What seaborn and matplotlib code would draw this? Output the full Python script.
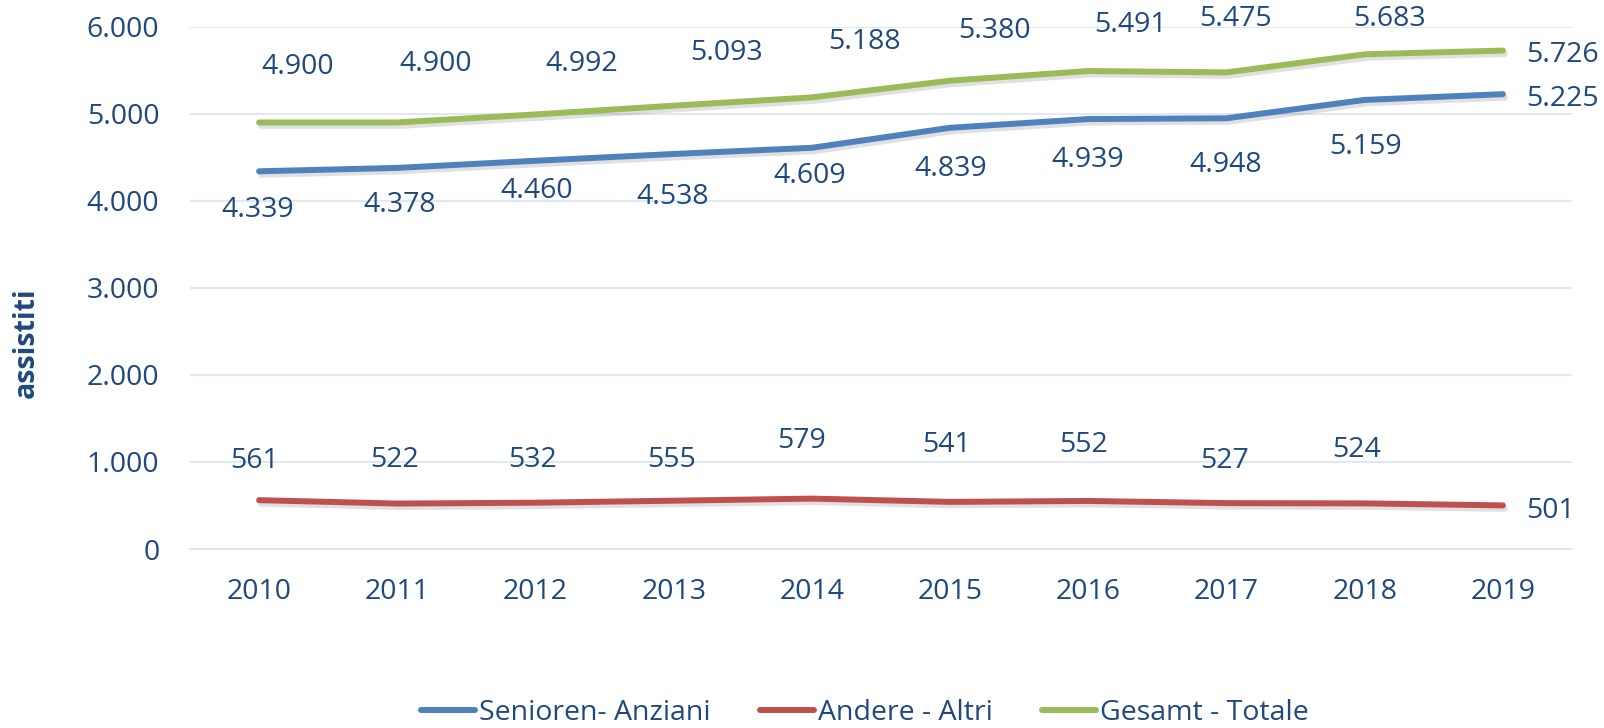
import matplotlib.pyplot as plt
import matplotlib.patheffects as pe
from matplotlib.lines import Line2D
from matplotlib.ticker import FuncFormatter, MultipleLocator, FixedLocator
import pandas as pd
import seaborn as sns

years = ['2010', '2011', '2012', '2013', '2014', '2015', '2016', '2017', '2018', '2019']
senioren = [4339, 4378, 4460, 4538, 4609, 4839, 4939, 4948, 5159, 5225]
andere = [561, 522, 532, 555, 579, 541, 552, 527, 524, 501]
gesamt = [4900, 4900, 4992, 5093, 5188, 5380, 5491, 5475, 5683, 5726]

series_names = ['Senioren- Anziani', 'Andere - Altri', 'Gesamt - Totale']
colors = ['#4F81BD', '#C0504D', '#9BBB59']

# where the value labels sit, relative to their point (pixels, up = positive)
senioren_lbl = [(-1, -35), (2, -34), (1, -27), (-1, -40), (-2, -25),
                (1, -38), (-1, -37), (-1, -43), (1, -44), (23, -1)]
andere_lbl = [(-5, 43), (-3, 47), (-3, 46), (-2, 44), (-10, 61),
              (-4, 60), (-5, 59), (-2, 46), (-8, 57), (23, -2)]
gesamt_lbl = [(39, 59), (38, 62), (46, 54), (53, 56), (53, 59),
              (44, 53), (42, 50), (9, 57), (25, 39), (23, -1)]

txt = '#1F497D'
grid_col = '#D6E3F3'
fs = 20.5

df = pd.DataFrame({'pos': range(len(years)), 'year': years,
                   series_names[0]: senioren, series_names[1]: andere,
                   series_names[2]: gesamt})

sns.set_theme(style='white')
plt.rcParams['font.family'] = ['Open Sans', 'DejaVu Sans']

fig, ax = plt.subplots(1, 1, figsize=[16.04, 7.28], dpi=100)
fig.subplots_adjust(left=190 / 1604, right=1572 / 1604, bottom=1 - 549 / 728, top=1 - 26.7 / 728)

shadow = [pe.SimpleLineShadow(offset=(1.5, -2.5), shadow_color='black', alpha=0.12), pe.Normal()]
for name, col in zip(series_names, colors):
    sns.lineplot(data=df, x='pos', y=name, color=col, linewidth=4.3, ax=ax,
                 solid_capstyle='round', solid_joinstyle='round', path_effects=shadow)

for name, offs in zip(series_names, [senioren_lbl, andere_lbl, gesamt_lbl]):
    vals = df[name].tolist()
    for i, (v, (dx, dy)) in enumerate(zip(vals, offs)):
        last = i == len(vals) - 1
        ax.annotate(f'{v:,}'.replace(',', '.'), (i, v), xytext=(dx, dy),
                    textcoords='offset pixels', ha='left' if last else 'center',
                    va='center_baseline', fontsize=fs, color=txt, annotation_clip=False)

ax.set_xlim(-0.5, len(years) - 0.5)
ax.set_ylim(0, 6000)
ax.xaxis.set_major_locator(FixedLocator(range(len(years))))
ax.set_xticklabels(years)
ax.xaxis.set_minor_locator(FixedLocator([i - 0.5 for i in range(len(years) + 1)]))
ax.yaxis.set_major_locator(MultipleLocator(1000))
ax.yaxis.set_major_formatter(FuncFormatter(lambda v, p: f'{int(v):,}'.replace(',', '.')))

ax.grid(axis='y', color=grid_col, linewidth=1.1)
ax.grid(axis='x', visible=False)
for s in ['top', 'right', 'left']:
    ax.spines[s].set_visible(False)
ax.spines['bottom'].set_color(grid_col)
ax.spines['bottom'].set_linewidth(1.1)

ax.tick_params(axis='y', length=0, pad=22, labelsize=fs, labelcolor=txt)
ax.tick_params(axis='x', which='major', length=0, pad=21, labelsize=fs, labelcolor=txt)
ax.tick_params(axis='x', which='minor', length=7.5, width=1.1, color=grid_col, direction='out')

ax.set_xlabel('')
ax.set_ylabel('assistiti', fontsize=fs, fontweight='bold', color=txt)
ax.yaxis.set_label_coords(-0.108, 0.395)

handles = [Line2D([], [], color=c, linewidth=4.3, solid_capstyle='round') for c in colors]
ax.legend(handles, series_names, loc='center', bbox_to_anchor=(865 / 1604, 1 - 713 / 728),
          bbox_transform=fig.transFigure, ncol=3, frameon=False, fontsize=fs,
          handlelength=1.9, handletextpad=0.15, columnspacing=1.72, labelcolor=txt)

plt.savefig('out.png', dpi=100)
